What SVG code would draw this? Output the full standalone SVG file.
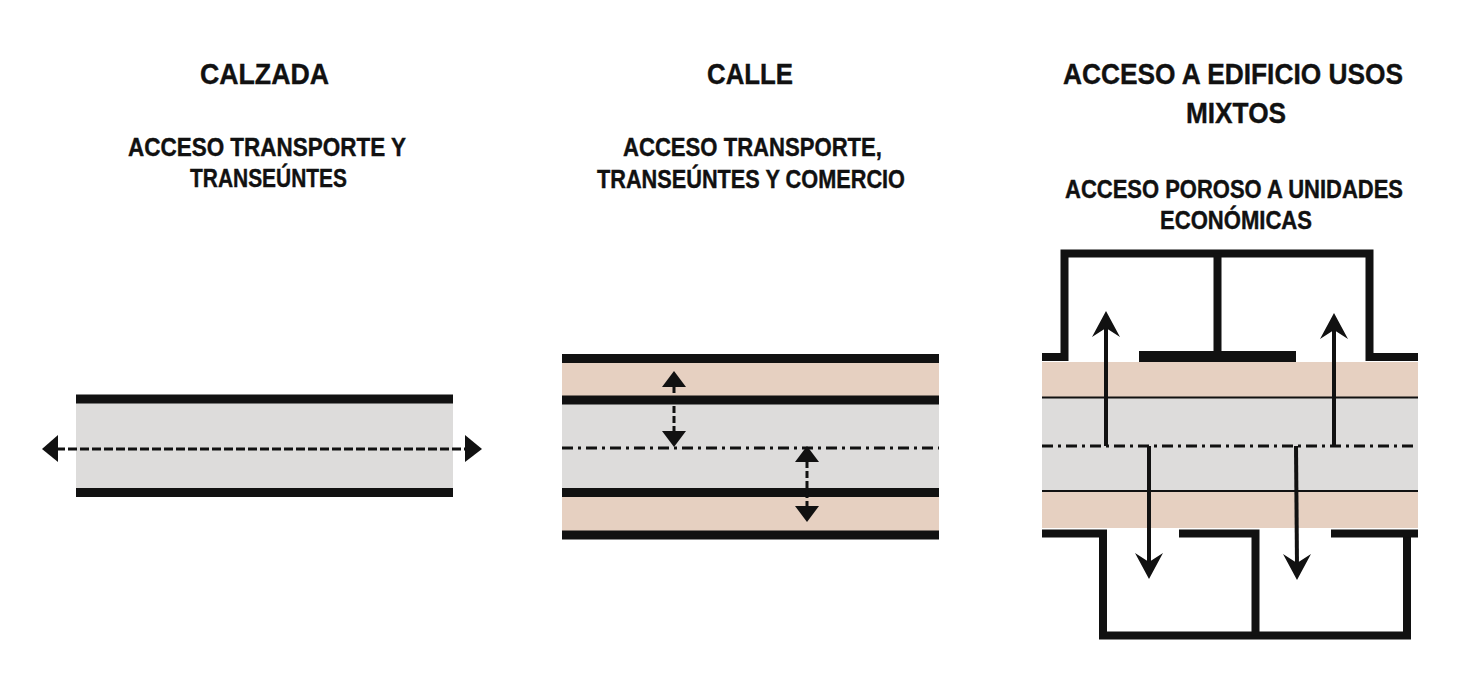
<svg xmlns="http://www.w3.org/2000/svg" width="1473" height="680" viewBox="0 0 1473 680">
<style>
.t{font-family:"Liberation Sans Narrow","Liberation Sans",Arial,sans-serif;font-weight:bold;font-size:30px;fill:#111;stroke:#111;stroke-width:0.4;text-anchor:middle}
.s{font-family:"Liberation Sans Narrow","Liberation Sans",Arial,sans-serif;font-weight:bold;font-size:25px;fill:#111;stroke:#111;stroke-width:0.4;text-anchor:middle}
.gray{fill:#dddcdb}
.peach{fill:#e6d0c1}
.bar{stroke:#111;stroke-width:9;fill:none}
.wall{stroke:#111;stroke-width:8;fill:none;stroke-linejoin:miter;stroke-linecap:butt}
.thin{stroke:#111;stroke-width:2}
.dashdot{stroke:#111;stroke-width:3;stroke-dasharray:11 5 3 5;fill:none}
.dash{stroke:#111;stroke-width:3;stroke-dasharray:9 3;fill:none}
.vdash{stroke:#111;stroke-width:3;stroke-dasharray:7 3;fill:none}
.shaft{stroke:#111;stroke-width:4;fill:none}
.head{fill:#111}
</style>
<defs>
<path id="stealth" d="M0,0 L14,26 L0,17 L-14,26 Z"/>
</defs>
<rect width="1473" height="680" fill="#fff"/>

<g id="calzada">
<text class="t" x="264.5" y="84" textLength="129" lengthAdjust="spacingAndGlyphs">CALZADA</text>
<text class="s" x="267" y="156" textLength="278" lengthAdjust="spacingAndGlyphs">ACCESO TRANSPORTE Y</text>
<text class="s" x="268.5" y="187" textLength="157" lengthAdjust="spacingAndGlyphs">TRANSEÚNTES</text>
<rect class="gray" x="76" y="403" width="377" height="85"/>
<line class="bar" x1="76" y1="399" x2="453" y2="399"/>
<line class="bar" x1="76" y1="492.5" x2="453" y2="492.5"/>
</g>

<g id="calle">
<text class="t" x="750" y="84" textLength="86" lengthAdjust="spacingAndGlyphs">CALLE</text>
<text class="s" x="752.5" y="156" textLength="259" lengthAdjust="spacingAndGlyphs">ACCESO TRANSPORTE,</text>
<text class="s" x="751" y="188" textLength="308" lengthAdjust="spacingAndGlyphs">TRANSEÚNTES Y COMERCIO</text>
<rect class="peach" x="562" y="358" width="377" height="177"/>
<rect class="gray" x="562" y="404" width="377" height="84"/>
<line class="bar" x1="562" y1="358.5" x2="939" y2="358.5"/>
<line class="bar" x1="562" y1="400" x2="939" y2="400"/>
<line class="bar" x1="562" y1="492.5" x2="939" y2="492.5"/>
<line class="bar" x1="562" y1="535" x2="939" y2="535"/>
</g>

<g id="edificio">
<text class="t" x="1233" y="84" textLength="340" lengthAdjust="spacingAndGlyphs">ACCESO A EDIFICIO USOS</text>
<text class="t" x="1236" y="123" textLength="100" lengthAdjust="spacingAndGlyphs">MIXTOS</text>
<text class="s" x="1234" y="198" textLength="338" lengthAdjust="spacingAndGlyphs">ACCESO POROSO A UNIDADES</text>
<text class="s" x="1236" y="229" textLength="152" lengthAdjust="spacingAndGlyphs">ECONÓMICAS</text>
<rect class="peach" x="1042" y="362" width="376" height="166"/>
<rect class="gray" x="1042" y="397" width="376" height="94"/>
<line class="thin" x1="1042" y1="397.5" x2="1418" y2="397.5"/>
<line class="thin" x1="1042" y1="491" x2="1418" y2="491"/>
<path class="wall" d="M1042,357 H1064.5 V253.5 H1369.5 V357 H1418"/>
<line class="wall" x1="1217.5" y1="253.5" x2="1217.5" y2="353"/>
<rect x="1139" y="351" width="157" height="11" fill="#111"/>
<path class="wall" d="M1042,533.5 H1103 V635.5 H1407 V533.5"/>
<line class="wall" x1="1331" y1="533.5" x2="1418" y2="533.5"/>
<path class="wall" d="M1179,533.5 H1255.5 V635.5"/>
</g>

<g id="connectors">
<line class="dash" x1="56" y1="449" x2="468" y2="449"/>
<polygon class="head" points="42,449 58,435 58,462"/>
<polygon class="head" points="482,449 465,435 465,462"/>

<line class="dashdot" x1="562" y1="448" x2="939" y2="448"/>
<line class="vdash" x1="674" y1="386" x2="674" y2="432"/>
<polygon class="head" points="674,371 662,387 686,387"/>
<polygon class="head" points="674,447 662,431 686,431"/>
<line class="vdash" x1="807" y1="461" x2="807" y2="507"/>
<polygon class="head" points="807,446 795,462 819,462"/>
<polygon class="head" points="807,522 795,506 819,506"/>

<line class="dashdot" x1="1042" y1="446" x2="1418" y2="446"/>
<line class="shaft" x1="1106" y1="446" x2="1106" y2="325"/>
<use href="#stealth" class="head" transform="translate(1106,311)"/>
<line class="shaft" x1="1334" y1="446" x2="1334" y2="327"/>
<use href="#stealth" class="head" transform="translate(1334,313)"/>
<line class="shaft" x1="1149" y1="446" x2="1149" y2="565"/>
<use href="#stealth" class="head" transform="translate(1149,579) rotate(180)"/>
<line class="shaft" x1="1296" y1="446" x2="1297" y2="566"/>
<use href="#stealth" class="head" transform="translate(1297,580) rotate(180)"/>
</g>
</svg>
